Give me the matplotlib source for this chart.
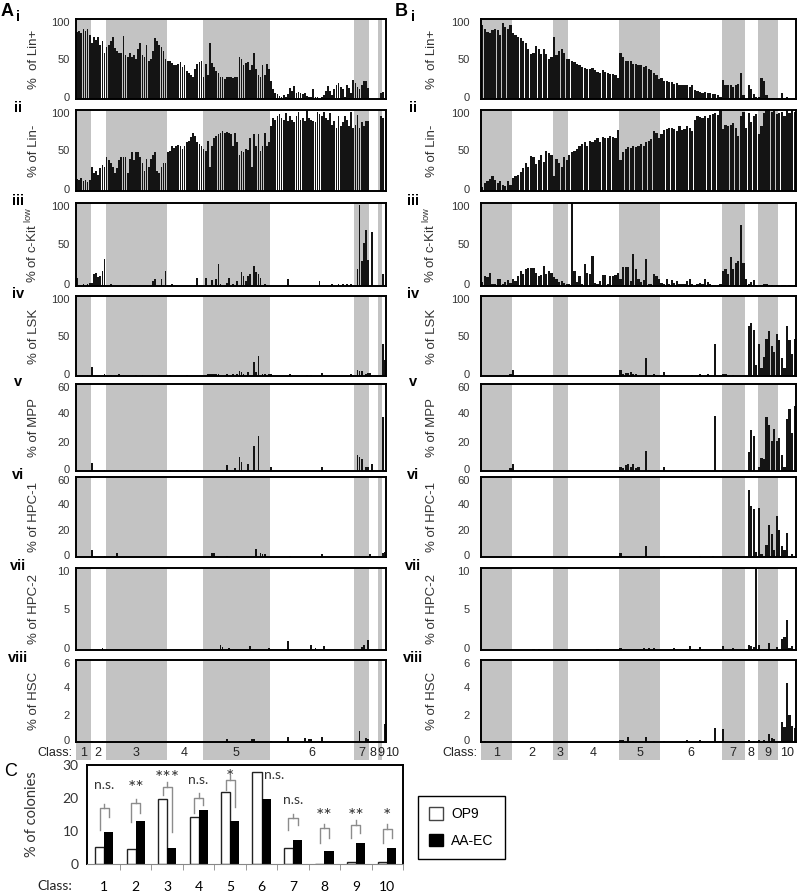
import numpy as np
import matplotlib.pyplot as plt
from matplotlib.patches import Rectangle, Patch
from matplotlib.transforms import blended_transform_factory, ScaledTranslation

plt.rcParams['font.family'] = ['Liberation Sans', 'DejaVu Sans']
plt.rcParams['mathtext.default'] = 'regular'

W, H = 800, 891
class_names = [str(c) for c in range(1, 11)]

# ---------------- panel A (one bar per colony, grouped by class 1..10) ----------------
a_lin_pos = [
    [84, 85, 83, 88, 85, 87, 80],
    [70, 78, 74, 77, 68, 72, 58],
    [65, 68, 72, 77, 64, 60, 58, 57, 79, 55, 52, 58, 52, 55, 50, 62, 70, 55, 52, 68,
     48, 50, 60, 76, 72, 68, 65, 60, 50],
    [48, 47, 45, 42, 43, 44, 46, 40, 42, 35, 33, 30, 27, 38, 44, 46, 47],
    [28, 44, 30, 70, 45, 40, 35, 32, 28, 27, 25, 27, 28, 27, 26, 28, 27, 52, 50, 42,
     45, 46, 36, 43, 58, 38, 30, 28, 42, 30, 44, 38],
    [22, 12, 8, 6, 4, 3, 5, 3, 6, 14, 10, 16, 7, 9, 7, 6, 8, 4, 2, 3,
     12, 2, 3, 1, 2, 5, 10, 16, 10, 5, 12, 18, 20, 15, 12, 3, 18, 14, 8, 24],
    [20, 15, 12, 18, 23, 23, 14],
    [0, 0, 0, 0],
    [0, 7],
    [9, 0],
]
a_lin_neg = [
    [15, 14, 16, 12, 13, 11, 14],
    [30, 22, 25, 20, 28, 32, 30],
    [42, 38, 35, 30, 22, 28, 38, 42, 42, 42, 22, 40, 48, 38, 48, 48, 42, 35, 25, 40,
     30, 40, 45, 48, 25, 22, 30, 35, 35],
    [48, 50, 55, 53, 56, 57, 55, 52, 55, 60, 62, 67, 72, 68, 60, 58, 55],
    [52, 50, 62, 30, 55, 65, 68, 70, 72, 74, 72, 73, 72, 70, 55, 72, 60, 45, 50, 48,
     52, 51, 65, 30, 70, 55, 70, 50, 55, 72, 55, 60],
    [80, 90, 88, 93, 95, 90, 88, 96, 86, 92, 88, 85, 92, 97, 88, 90, 86, 100, 90, 88,
     86, 85, 97, 95, 93, 97, 90, 88, 96, 82, 87, 78, 92, 80, 85, 92, 88, 80, 97, 78],
    [82, 94, 78, 85, 80, 86, 86],
    [0, 0, 0, 0],
    [0, 92],
    [90, 0],
]
a_ckit_low = [
    [10, 0, 0, 3, 0, 2, 4],
    [4, 14, 16, 11, 12, 18, 33],
    [0, 0, 3, 0, 0, 0, 0, 0, 0, 0, 0, 1, 0, 0, 0, 0, 0, 0, 0, 0,
     0, 0, 6, 9, 0, 0, 8, 0, 18],
    [0, 0, 3, 0, 0, 0, 0, 0, 0, 0, 0, 0, 0, 0, 10, 0, 0],
    [0, 10, 0, 0, 7, 0, 8, 26, 2, 0, 0, 4, 10, 0, 2, 0, 6, 0, 17, 12,
     6, 12, 14, 0, 24, 17, 15, 10, 0, 3, 0, 0],
    [0, 0, 0, 0, 0, 0, 0, 0, 8, 0, 0, 0, 0, 0, 0, 0, 0, 0, 0, 0,
     0, 0, 0, 6, 0, 0, 0, 0, 0, 3, 0, 0, 2, 0, 3, 0, 3, 0, 2, 0],
    [0, 20, 97, 30, 52, 68, 31],
    [0, 65, 0, 0],
    [0, 0],
    [15, 0],
]
# sparse panels: {bar index: value}
a_lsk = {5: 1, 7: 11, 13: 2, 16: 1, 20: 3, 28: 1, 31: 1, 39: 1, 44: 1, 52: 1,
         62: 2, 63: 2, 64: 2, 65: 3, 66: 3, 67: 2, 71: 3, 74: 2, 76: 2, 77: 6,
         78: 5, 79: 3, 81: 5, 84: 17, 85: 5, 86: 25, 88: 2, 89: 2, 91: 2, 92: 2,
         101: 2, 109: 1, 111: 1, 116: 4, 130: 3, 133: 7, 134: 6, 135: 6, 137: 3,
         138: 4, 139: 4, 145: 40, 146: 20}
a_mpp = {7: 5.5, 13: 1, 27: 1, 31: 1, 44: 1, 52: 1, 65: 1, 71: 4, 75: 2, 77: 10,
         78: 6, 81: 5, 84: 17, 86: 24, 92: 3, 116: 3, 133: 11, 134: 10, 135: 8,
         137: 3, 138: 3, 140: 5, 145: 37}
a_hpc1 = {7: 5, 13: 1, 19: 3, 64: 3, 65: 3, 71: 1, 85: 6, 87: 3, 88: 2, 89: 2,
          101: 1, 116: 2, 130: 1, 134: 1, 139: 2, 145: 3, 146: 4}
a_hpc2 = {12: 0.2, 68: 0.6, 69: 0.4, 72: 0.3, 82: 0.5, 91: 0.3, 100: 1.1,
          111: 0.6, 113: 0.3, 117: 0.5, 135: 0.4, 136: 0.6, 138: 1.2}
a_hsc = {7: 0.1, 12: 0.1, 71: 0.2, 77: 0.1, 83: 0.2, 84: 0.2, 92: 0.1, 100: 0.4,
         108: 0.3, 110: 0.25, 111: 0.25, 116: 0.35, 134: 0.8, 137: 0.3, 138: 0.2,
         146: 1.3}

# ---------------- panel B ----------------
b_lin_pos = [
    [93, 87, 84, 82, 86, 88, 86, 80, 95, 90, 88, 92],
    [82, 80, 78, 76, 73, 70, 62, 56, 58, 66, 62, 56, 63, 56, 50, 52],
    [78, 55, 60, 63, 57, 50],
    [50, 48, 46, 44, 42, 40, 39, 38, 38, 39, 36, 34, 33, 36, 34, 32, 31, 31, 30, 26],
    [57, 52, 48, 47, 47, 44, 44, 43, 42, 40, 41, 38, 36, 33, 30, 25],
    [26, 22, 22, 21, 21, 19, 20, 18, 18, 17, 18, 15, 18, 11, 10, 9, 8, 9, 7, 7,
     6, 6, 5, 2],
    [24, 18, 18, 18, 15, 18, 19, 32, 5],
    [0, 18, 12, 6, 2],
    [2, 26, 22, 5, 1, 1, 1, 1],
    [1, 8, 1, 3, 0, 0, 0],
]
b_lin_neg = [
    [5, 10, 12, 15, 18, 13, 10, 12, 8, 6, 12, 8],
    [16, 18, 20, 24, 28, 35, 30, 43, 42, 33, 38, 44, 36, 50, 47, 45],
    [18, 40, 35, 30, 42, 38],
    [45, 48, 50, 52, 55, 58, 60, 55, 62, 60, 63, 65, 60, 67, 66, 65, 68, 67, 66, 75],
    [38, 48, 52, 54, 53, 56, 54, 56, 58, 56, 60, 62, 64, 74, 72, 66],
    [70, 75, 77, 78, 78, 76, 74, 80, 75, 77, 80, 78, 74, 88, 92, 91, 90, 92, 90, 94,
     95, 96, 94, 100],
    [76, 82, 80, 82, 84, 78, 68, 92, 98],
    [78, 96, 85, 92, 95],
    [70, 80, 96, 100, 100, 98, 100, 95],
    [96, 98, 92, 100, 96, 100, 98],
]
b_ckit_low = [
    [5, 12, 11, 16, 2, 2, 8, 9, 3, 5, 7, 4],
    [8, 6, 12, 18, 14, 21, 22, 22, 22, 16, 12, 13, 24, 15, 18, 16],
    [11, 8, 5, 6, 4, 2],
    [3, 100, 18, 5, 12, 3, 26, 16, 15, 36, 4, 3, 6, 13, 13, 2, 12, 12, 13, 16],
    [8, 23, 23, 23, 6, 38, 21, 8, 5, 7, 32, 2, 3, 15, 12, 8],
    [4, 2, 9, 2, 7, 4, 6, 2, 2, 3, 6, 8, 2, 1, 3, 4, 2, 8, 5, 2, 1, 1, 1, 2],
    [18, 21, 15, 35, 20, 28, 30, 73, 28],
    [8, 3, 5, 7, 1],
    [1, 1, 2, 2, 1, 1, 0, 1],
    [0, 1, 1, 0, 1, 1, 1],
]
b_lsk = {11: 2, 12: 7, 54: 8, 55: 3, 56: 4, 57: 4, 58: 5, 59: 3, 60: 3, 64: 23,
         67: 2, 71: 5, 82: 1, 85: 2, 88: 2, 91: 40, 94: 2, 95: 3, 98: 1,
         104: 63, 105: 66, 106: 58, 107: 14, 108: 40, 109: 10, 110: 24, 111: 46,
         112: 56, 113: 38, 114: 30, 115: 52, 116: 45, 117: 22, 118: 10, 119: 62,
         120: 45, 121: 28, 122: 46}
b_mpp = {11: 2, 12: 5, 17: 0.5, 21: 0.5, 28: 0.5, 54: 3, 55: 2, 56: 4, 57: 5,
         58: 3, 59: 5, 60: 2, 61: 3, 64: 14, 65: 1, 71: 3, 82: 0.5, 91: 38, 94: 1,
         104: 13, 105: 28, 106: 24, 108: 3, 109: 9, 110: 8, 111: 37, 112: 32,
         113: 21, 114: 29, 115: 21, 116: 23, 117: 11, 118: 3, 119: 36, 120: 43,
         121: 26, 122: 45}
b_hpc1 = {54: 3, 64: 8, 71: 0.5, 85: 1, 90: 1, 104: 50, 105: 38, 106: 36, 107: 4,
          108: 37, 109: 2, 110: 1, 111: 9, 112: 24, 113: 17, 114: 5, 115: 31,
          116: 20, 117: 8, 118: 5, 119: 18, 120: 1, 121: 2, 122: 0.5}
b_hpc2 = {1: 0.05, 8: 0.05, 20: 0.1, 22: 0.1, 45: 0.1, 54: 0.3, 62: 0.15, 63: 0.2,
          65: 0.2, 67: 0.2, 75: 0.2, 81: 0.5, 85: 0.4, 94: 0.5, 98: 0.2, 104: 0.6,
          105: 0.5, 106: 0.4, 107: 10, 108: 0.6, 112: 0.9, 115: 0.4, 117: 1.3,
          118: 1.6, 119: 3.6, 120: 0.3, 121: 0.5}
b_hsc = {1: 0.1, 54: 0.15, 55: 0.15, 57: 0.4, 59: 0.1, 64: 0.4, 67: 0.1, 71: 0.1,
         80: 0.15, 85: 0.15, 91: 1.0, 94: 0.95, 103: 0.1, 104: 0.15, 106: 0.1,
         108: 0.15, 110: 0.15, 112: 0.6, 113: 0.3, 114: 0.2, 117: 1.5, 118: 1.1,
         119: 4.3, 120: 2.0, 121: 1.2, 122: 1.0}

# ---------------- panel C ----------------
op9_pct = [5.1, 4.4, 19.6, 14.2, 21.7, 28.0, 5.0, 0.0, 0.6, 0.6]
aaec_pct = [9.8, 13.0, 4.8, 16.4, 13.0, 19.6, 7.3, 4.0, 6.5, 4.8]
significance = ['n.s.', '**', '***', 'n.s.', '*', 'n.s.', 'n.s.', '**', '**', '*']

ylabels = ['%  of Lin+', '% of Lin-', '% of c-Kit $^{low}$', '% of LSK',
           '% of MPP', '% of HPC-1', '% of HPC-2', '% of HSC']
romans = ['i', 'ii', 'iii', 'iv', 'v', 'vi', 'vii', 'viii']
ymaxes = [100, 100, 100, 100, 60, 60, 10, 6]
yticks = [[0, 50, 100]] * 4 + [[0, 20, 40, 60]] * 2 + [[0, 5, 10], [0, 2, 4, 6]]


def flat(groups):
    return np.concatenate([np.asarray(g, float) for g in groups])


def expand(d, n):
    v = np.zeros(n)
    for k, val in d.items():
        v[k] = val
    return v


fig = plt.figure(figsize=(W / 100, H / 100), dpi=100)


def px_rect(x0, y0, x1, y1):
    return [x0 / W, 1 - y1 / H, (x1 - x0) / W, (y1 - y0) / H]


rows = [(19, 99), (110, 191), (203, 286), (296, 376), (384, 471), (477, 557),
        (568, 650), (660, 742)]
band_gray = '#c3c3c3'
nudge_up = ScaledTranslation(0, 1.5 / 72, fig.dpi_scale_trans)
nudge_down = ScaledTranslation(0, -2 / 72, fig.dpi_scale_trans)


def draw_column(x0, x1, counts, series, ylab_x, tick_pad, roman_x, label_shift, bar_w):
    n = sum(counts)
    edges = np.concatenate([[0], np.cumsum(counts)])
    ax = None
    for r, (top, bot) in enumerate(rows):
        ax = fig.add_axes(px_rect(x0, top, x1, bot))
        for c in range(0, 10, 2):
            ax.axvspan(edges[c] - 0.5, edges[c + 1] - 0.5, color=band_gray, lw=0, zorder=0)
        ax.bar(np.arange(n), series[r], width=bar_w, color='#141414', lw=0, zorder=2)
        ax.set_xlim(-0.5, n - 0.5)
        ax.set_ylim(0, ymaxes[r])
        ax.set_xticks([])
        ax.set_yticks(yticks[r])
        ax.tick_params(axis='y', length=0, pad=tick_pad, labelsize=8, labelcolor='#333333')
        labels = ax.get_yticklabels()
        labels[0].set_transform(labels[0].get_transform() + nudge_up)
        labels[-1].set_transform(labels[-1].get_transform() + nudge_down)
        for s in ax.spines.values():
            s.set_linewidth(1.4)
            s.set_color('black')
            s.set_zorder(3)
        ax.set_ylabel(ylabels[r], fontsize=9.5, color='#333333')
        ax.yaxis.set_label_coords(ylab_x, 0.5)
        fig.text(roman_x / W, 1 - (top - 2) / H, romans[r], fontsize=10.5,
                 fontweight='bold', ha='center', va='center')
    # class strip under the last panel
    tr = blended_transform_factory(ax.transData, ax.transAxes)
    for c in range(10):
        if c % 2 == 0:
            ax.add_patch(Rectangle((edges[c] - 0.5, -0.22), counts[c], 0.22,
                                   transform=tr, color=band_gray, lw=0,
                                   clip_on=False))
        xc = (edges[c] + edges[c + 1]) / 2 - 0.5 + label_shift.get(c, 0)
        ax.text(xc, -0.13, class_names[c], transform=tr, ha='center', va='center',
                fontsize=9, color='#222222')
    fig.text((x0 - 4) / W, 1 - 753 / H, 'Class:', ha='right', va='center',
             fontsize=9, color='#222222')


a_counts = [len(g) for g in a_lin_pos]
na = sum(a_counts)
a_series = [flat(a_lin_pos), flat(a_lin_neg), flat(a_ckit_low), expand(a_lsk, na),
            expand(a_mpp, na), expand(a_hpc1, na), expand(a_hpc2, na), expand(a_hsc, na)]
draw_column(76, 386, a_counts, a_series, -0.116, 4.5, 18, {8: 0.6, 9: 3.8}, 0.8)

b_counts = [len(g) for g in b_lin_pos]
nb = sum(b_counts)
b_series = [flat(b_lin_pos), flat(b_lin_neg), flat(b_ckit_low), expand(b_lsk, nb),
            expand(b_mpp, nb), expand(b_hpc1, nb), expand(b_hpc2, nb), expand(b_hsc, nb)]
draw_column(481, 796, b_counts, b_series, -0.137, 8, 413, {}, 0.86)

fig.text(7 / W, 1 - 11 / H, 'A', fontsize=13, fontweight='bold', ha='center', va='center')
fig.text(401 / W, 1 - 11 / H, 'B', fontsize=13, fontweight='bold', ha='center', va='center')
fig.text(11 / W, 1 - 772 / H, 'C', fontsize=13, ha='center', va='center')

# ---------------- panel C ----------------
axc = fig.add_axes(px_rect(87, 765, 403, 864))
x = np.arange(10)
axc.bar(x - 0.145, op9_pct, width=0.29, color='white', edgecolor='#222222', lw=1,
        label='OP9', zorder=2)
axc.bar(x + 0.145, aaec_pct, width=0.29, color='black', lw=0, label='AA-EC', zorder=2)
axc.set_xlim(-0.55, 9.5)
axc.set_ylim(0, 30)
axc.set_yticks([0, 10, 20, 30])
axc.set_yticklabels(['0', '10', '20', '30'], fontfamily='Lato', fontsize=10)
axc.set_xticks(x)
axc.set_xticklabels(class_names, fontfamily='Lato', fontsize=10)
axc.set_xticks(np.arange(10) + 0.5, minor=True)
axc.tick_params(axis='x', which='major', length=0, pad=12)
axc.tick_params(axis='x', which='minor', length=4, color='#888888', direction='out')
axc.tick_params(axis='y', length=0, pad=6, labelcolor='#333333')
for side in ['top', 'right', 'left']:
    axc.spines[side].set_linewidth(1.4)
axc.spines['bottom'].set_color('#888888')
axc.set_ylabel('% of colonies', fontfamily='Lato', fontsize=10.5, color='#333333')
axc.yaxis.set_label_coords(-0.152, 0.5)
fig.text(72 / W, 1 - 886 / H, 'Class:', ha='right', va='center', fontfamily='Lato',
         fontsize=10, color='#222222')

# significance brackets: (top, left foot, right foot, label height)
brackets = [(16.9, 10.3, 14.3, 23.9), (18.4, 12.8, 15.4, 23.0), (23.4, 20.9, 9.8, 25.8),
            (20.1, 15.4, 17.9, 25.5), (25.5, 22.4, 17.4, 26.3), None,
            (13.8, 10.3, 11.8, 19.4), (10.8, 6.3, 7.8, 14.3), (11.8, 7.8, 9.3, 14.3),
            (10.6, 6.3, 7.8, 14.3)]
for i, br in enumerate(brackets):
    if br is None:
        axc.text(i + 0.08, 27.0, significance[i], ha='left', va='center',
                 fontfamily='Lato', fontsize=10, color='#333333')
        continue
    top, lf, rf, ly = br
    xl, xr = i - 0.145, i + 0.145
    axc.plot([xl, xl, xr, xr], [lf, top, top, rf], color='#8c8c8c', lw=1, zorder=3)
    axc.plot([i, i], [top, top + 1.4], color='#8c8c8c', lw=1, zorder=3)
    star = significance[i].startswith('*')
    axc.text(i, ly, significance[i], ha='center', va='center', fontfamily='Lato',
             fontsize=14 if star else 10, color='#333333')

handles = [Patch(facecolor='white', edgecolor='#444444', lw=1),
           Patch(facecolor='black', edgecolor='black')]
fig.legend(handles, ['OP9', 'AA-EC'], loc='upper left',
           bbox_to_anchor=(418 / W, 1 - 796 / H), fontsize=10, handlelength=1.0,
           handleheight=1.0, handletextpad=0.6, labelspacing=0.9, borderpad=0.8,
           borderaxespad=0, fancybox=False, edgecolor='black', framealpha=1)

fig.savefig('out.png', dpi=100)
